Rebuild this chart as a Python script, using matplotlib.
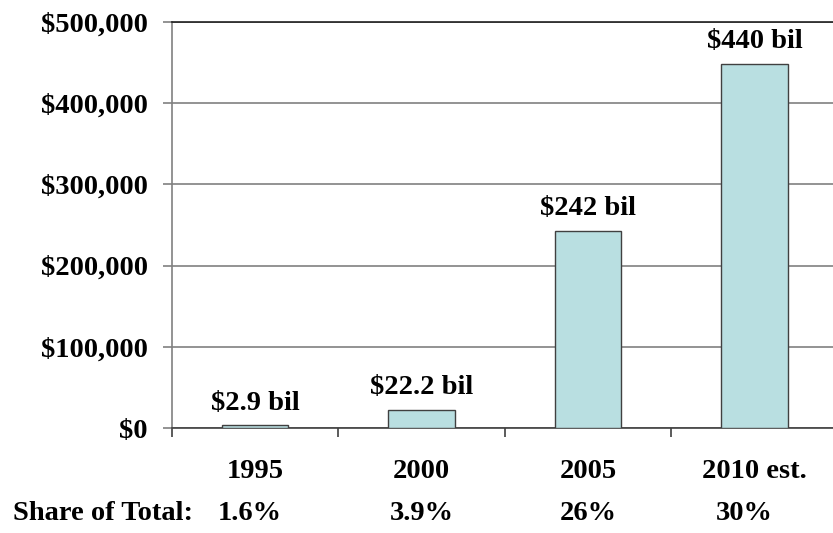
import matplotlib
matplotlib.use("Agg")
import matplotlib.pyplot as plt
from matplotlib.ticker import FuncFormatter
import matplotlib.transforms as mtransforms

categories = ["1995", "2000", "2005", "2010 est."]
values = [3500, 23000, 242500, 448500]
bar_labels = ["$2.9 bil", "$22.2 bil", "$242 bil", "$440 bil"]
shares = ["1.6%", "3.9%", "26%", "30%"]
yticks = [0, 100000, 200000, 300000, 400000, 500000]

plt.rcParams['font.family'] = ['Liberation Serif', 'DejaVu Serif']
plt.rcParams['font.weight'] = 'bold'
FS = 20.5

fig = plt.figure(figsize=(8.33, 5.33), dpi=100)
ax = fig.add_axes([172/833, 1-428.3/533, 1-172/833, (428.3-21.7)/533])

x = list(range(len(categories)))
ax.bar(x, values, width=0.40, color='#b9dfe1', edgecolor='#404040', linewidth=1.0, zorder=3)

for xi, v, lab in zip(x, values, bar_labels):
    ax.annotate(lab, (xi, v), xytext=(0, 7), textcoords='offset points',
                ha='center', va='bottom', fontsize=FS, fontweight='bold')

ax.set_xlim(-0.5, 3.472)
ax.set_ylim(0, 500000)
ax.set_yticks(yticks)
ax.yaxis.set_major_formatter(FuncFormatter(lambda v, p: "$" + format(int(v), ",")))
ax.grid(axis='y', color='#808080', linewidth=1.2, zorder=0)

ax.set_xticks([-0.5, 0.5, 1.5, 2.5])
ax.set_xticklabels([])
ax.set_xticks(x, minor=True)
ax.set_xticklabels(categories, minor=True)
ax.tick_params(axis='x', which='major', direction='out', length=6.5, width=1.2, color='#404040')
ax.tick_params(axis='x', which='minor', length=0, pad=22, labelsize=FS)
ax.tick_params(axis='y', direction='out', length=6.5, width=1.2, color='#808080', pad=11, labelsize=FS)

ax.spines['right'].set_visible(False)
ax.spines['left'].set_color('#808080')
ax.spines['left'].set_linewidth(1.2)
ax.spines['top'].set_color('#202020')
ax.spines['top'].set_linewidth(1.2)
ax.spines['bottom'].set_color('#404040')
ax.spines['bottom'].set_linewidth(1.2)

fig.text(13/833, 1-513/533, "Share of Total:", ha='left', va='center', fontsize=FS, fontweight='bold')
trans = mtransforms.blended_transform_factory(ax.transData, fig.transFigure)
share_offsets = [-0.03, 0.0, 0.0, -0.06]
for xi, s, o in zip(x, shares, share_offsets):
    ax.text(xi + o, 1-513/533, s, transform=trans, ha='center', va='center', fontsize=FS, fontweight='bold', clip_on=False)

fig.savefig("out.png", dpi=100)
